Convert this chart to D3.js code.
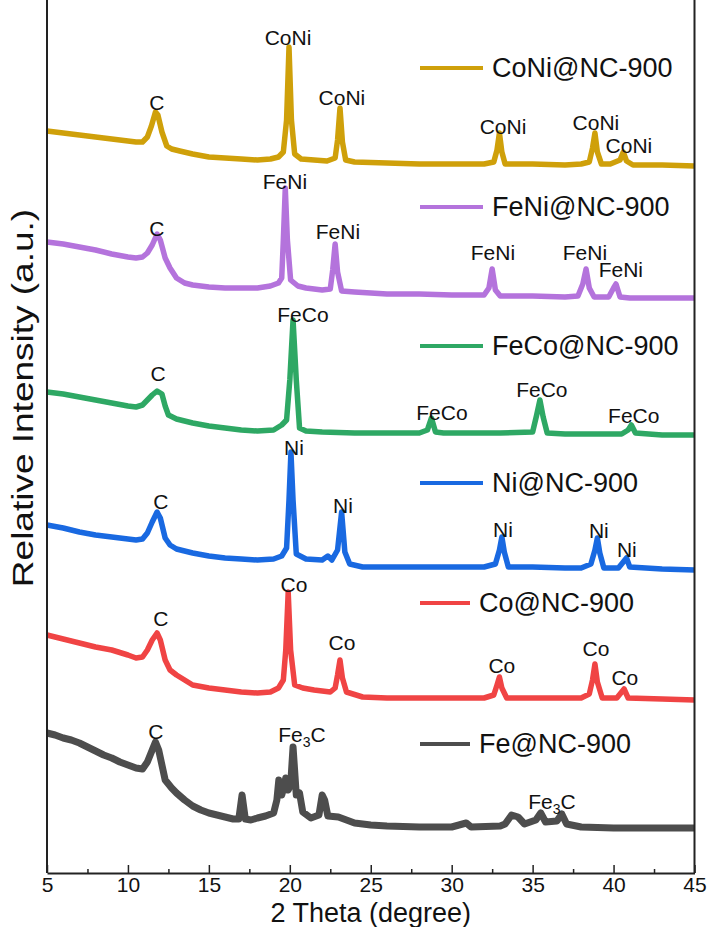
<!DOCTYPE html>
<html>
<head>
<meta charset="utf-8">
<script src="https://cdnjs.cloudflare.com/ajax/libs/d3/7.8.5/d3.min.js"></script>
<style>
  html, body { margin: 0; padding: 0; background: #fff; }
  svg { display: block; font-family: "Liberation Sans", Arial, sans-serif; }
</style>
</head>
<body>
<div id="main"></div>
<script>
// x ticks
var majorTicks = [5, 10, 15, 20, 25, 30, 35, 40, 45];
var minorTicks = [7.5, 12.5, 17.5, 22.5, 27.5, 32.5, 37.5, 42.5];

// series names (legend order, top to bottom)
var seriesNames = ["CoNi@NC-900", "FeNi@NC-900", "FeCo@NC-900", "Ni@NC-900", "Co@NC-900", "Fe@NC-900"];

// stacked patterns: [2theta, relative intensity (a.u., offset included)]
var coNi = [[5, 869], [6, 867], [7, 865], [8, 863], [9, 861], [10, 859], [10.5, 858], [10.9, 858], [11.2, 863], [11.45, 874], [11.7, 888], [11.85, 885], [12.1, 868], [12.4, 854], [12.7, 851], [13.2, 849], [14, 846], [15, 843], [16, 842], [17, 841], [18, 840], [18.8, 841], [19.3, 843], [19.6, 848], [19.8, 880], [19.95, 953], [20.1, 880], [20.3, 846], [20.7, 841], [21.5, 840], [22.3, 839], [22.8, 842], [22.95, 860], [23.1, 892], [23.25, 858], [23.45, 840], [24, 838], [26, 837], [28, 836], [30, 836], [32, 836], [32.6, 838], [32.8, 850], [32.95, 867], [33.1, 848], [33.3, 836], [35, 836], [37, 835], [38, 836], [38.5, 838], [38.7, 852], [38.85, 867], [39.0, 848], [39.25, 836], [39.8, 836], [40.4, 840], [40.6, 848], [40.8, 839], [41.2, 835], [43, 835], [45, 834]];

var feNi = [[5, 758], [6, 756], [7, 753], [8, 750], [9, 746], [10, 743], [10.5, 742], [10.9, 743], [11.2, 747], [11.5, 755], [11.8, 766], [12.0, 760], [12.3, 742], [12.6, 732], [13, 722], [13.5, 717], [14, 715], [15, 713], [16, 712], [17, 712], [18, 712], [18.8, 714], [19.3, 717], [19.5, 722], [19.6, 760], [19.72, 812], [19.85, 760], [20.05, 720], [20.5, 714], [21, 712], [22, 710], [22.5, 711], [22.65, 730], [22.8, 756], [22.95, 728], [23.2, 709], [24, 708], [26, 706], [28, 706], [30, 705], [32, 705], [32.3, 712], [32.5, 731], [32.7, 710], [33, 704], [35, 704], [37, 703], [37.8, 704], [38.1, 716], [38.3, 731], [38.5, 712], [38.8, 703], [39.7, 703], [40.0, 712], [40.15, 716], [40.4, 703], [41, 702], [43, 702], [45, 702]];

var feCo = [[5, 608], [6, 606], [7, 603], [8, 600], [9, 597], [10, 594], [10.5, 593], [10.9, 595], [11.2, 600], [11.5, 605], [11.8, 609], [12.1, 606], [12.3, 594], [12.5, 585], [13, 581], [14, 577], [15, 574], [16, 572], [17, 570], [18, 569], [19, 570], [19.5, 575], [19.8, 580], [20.0, 620], [20.2, 680], [20.4, 620], [20.6, 572], [21, 569], [22, 568], [24, 567], [26, 567], [28, 567], [28.5, 570], [28.75, 582], [29, 568], [29.5, 567], [31, 567], [33, 567], [35, 568], [35.25, 585], [35.45, 600], [35.65, 583], [35.9, 567], [37, 566], [39, 566], [40.5, 566], [40.9, 570], [41.1, 575], [41.35, 567], [43, 565], [45, 565]];

var ni = [[5, 475], [6, 472], [7, 468], [8, 465], [9, 463], [10, 461], [10.5, 460], [10.9, 461], [11.2, 467], [11.5, 478], [11.8, 488], [12.0, 482], [12.3, 462], [12.6, 455], [13, 451], [14, 447], [15, 444], [16, 442], [17, 441], [18, 440], [19, 441], [19.5, 444], [19.8, 452], [19.95, 500], [20.07, 548], [20.2, 500], [20.4, 446], [21, 441], [22, 440], [22.35, 444], [22.6, 440], [22.95, 450], [23.2, 488], [23.4, 448], [23.7, 436], [24.5, 433], [26, 433], [28, 433], [30, 433], [32, 433], [32.7, 436], [32.95, 450], [33.1, 463], [33.25, 448], [33.5, 433], [35, 433], [37, 432], [38, 432], [38.6, 436], [38.85, 450], [39.0, 462], [39.15, 447], [39.4, 432], [40.3, 432], [40.6, 438], [40.8, 442], [41.0, 433], [43, 431], [45, 430]];

var co = [[5, 365], [6, 361], [7, 357], [8, 353], [9, 350], [10, 345], [10.5, 342], [10.9, 343], [11.2, 350], [11.5, 360], [11.8, 367], [12.0, 360], [12.3, 340], [12.6, 330], [13, 325], [13.5, 320], [14, 315], [15, 312], [16, 310], [17, 308], [18, 307], [18.8, 308], [19.3, 312], [19.6, 320], [19.75, 350], [19.9, 408], [20.05, 350], [20.3, 315], [20.8, 312], [21.5, 310], [22.5, 308], [22.8, 312], [22.95, 325], [23.1, 340], [23.25, 322], [23.5, 308], [24.5, 303], [26, 302], [28, 302], [30, 302], [32, 302], [32.6, 305], [32.8, 315], [32.95, 323], [33.1, 312], [33.4, 302], [35, 302], [37, 302], [38, 302], [38.5, 306], [38.7, 320], [38.85, 336], [39.0, 318], [39.3, 302], [40.2, 302], [40.5, 308], [40.65, 311], [40.9, 302], [43, 301], [45, 300]];

var fe = [[5, 267], [5.5, 265], [6, 262], [6.5, 260], [7, 257], [7.5, 253], [8, 249], [8.5, 245], [9, 242], [9.5, 238], [10, 235], [10.5, 232], [10.9, 231], [11.2, 238], [11.5, 250], [11.7, 258], [11.9, 250], [12.3, 220], [12.7, 212], [13, 207], [13.5, 200], [14, 194], [14.5, 190], [15, 187], [15.5, 185], [16, 183], [16.5, 181], [16.85, 181], [17.05, 205], [17.25, 181], [17.6, 180], [18, 182], [18.5, 184], [19, 187], [19.2, 200], [19.32, 220], [19.5, 205], [19.62, 212], [19.75, 222], [19.9, 210], [20.05, 215], [20.2, 253], [20.4, 205], [20.6, 207], [20.8, 188], [21.3, 182], [21.8, 185], [22.0, 205], [22.15, 200], [22.35, 184], [23, 183], [23.5, 180], [24, 177], [25, 175], [26, 174], [28, 173], [30, 173], [30.9, 177], [31.2, 173], [33, 174], [33.3, 176], [33.7, 185], [34.1, 183], [34.5, 176], [35.2, 180], [35.5, 187], [35.8, 178], [36.5, 179], [36.8, 186], [37.1, 176], [38, 173], [40, 172], [42, 172], [45, 172]];

var seriesData = [coNi, feNi, feCo, ni, co, fe];

// peak assignments: [series index, label, 2theta, intensity]
var peakLabels = [
  [0, "C", 11.79, 897], [0, "CoNi", 19.89, 962], [0, "CoNi", 23.22, 902], [0, "CoNi", 33.17, 873], [0, "CoNi", 38.91, 877], [0, "CoNi", 40.95, 854],
  [1, "C", 11.79, 771], [1, "FeNi", 19.70, 818], [1, "FeNi", 22.97, 768], [1, "FeNi", 32.55, 747], [1, "FeNi", 38.23, 747], [1, "FeNi", 40.45, 730],
  [2, "C", 11.86, 626], [2, "FeCo", 20.81, 685], [2, "FeCo", 29.40, 587], [2, "FeCo", 35.57, 610], [2, "FeCo", 41.25, 584],
  [3, "C", 12.04, 498], [3, "Ni", 20.26, 552], [3, "Ni", 23.28, 494], [3, "Ni", 33.17, 470], [3, "Ni", 39.09, 469], [3, "Ni", 40.82, 450],
  [4, "C", 12.04, 381], [4, "Co", 20.26, 415], [4, "Co", 23.22, 357], [4, "Co", 33.10, 334], [4, "Co", 38.91, 351], [4, "Co", 40.70, 322],
  [5, "C", 11.73, 268], [5, "Fe3C", 20.75, 265], [5, "Fe3C", 36.19, 198]
];

var colors = ["#CFA00A", "#B473DC", "#2EA864", "#1969E1", "#F04444", "#4D4D4D"];

var W = 710, H = 927;
var left = 47, right = 694.5, bottom = 873;

var svg = d3.select("#main").append("svg")
    .attr("width", W)
    .attr("height", H);

var x = d3.scaleLinear().domain([5, 45]).range([left, right]);
var y = d3.scaleLinear().domain([127, 1000]).range([bottom, 0]);

var line = d3.line()
    .x(function(d) { return x(d[0]); })
    .y(function(d) { return y(d[1]); });

// traces
svg.selectAll(".trace")
    .data(seriesData)
    .enter()
    .append("path")
    .attr("class", "trace")
    .attr("d", line)
    .attr("fill", "none")
    .attr("stroke", function(d, i) { return colors[i]; })
    .attr("stroke-width", function(d, i) { return i == 5 ? 7 : 5.5; })
    .attr("stroke-linejoin", "round");

// peak labels
var lab = svg.selectAll(".peak")
    .data(peakLabels)
    .enter()
    .append("text")
    .attr("class", "peak")
    .attr("x", function(d) { return x(d[2]); })
    .attr("y", function(d) { return y(d[3]); })
    .attr("dy", "0.35em")
    .attr("text-anchor", "middle")
    .style("font-size", "21px")
    .attr("fill", "#111");
lab.each(function(d) {
    var t = d3.select(this);
    if (d[1] == "Fe3C") {
        t.append("tspan").text("Fe");
        t.append("tspan").text("3").attr("dy", "0.3em").style("font-size", "14px");
        t.append("tspan").text("C").attr("dy", "-0.21em");
    } else {
        t.text(d[1]);
    }
});

// legend (one entry per trace, placed beside it)
var legendY = [68, 207, 346, 483, 603, 744];
var legendLen = [63, 63, 63, 63, 50, 50];
var leg = svg.selectAll(".legend")
    .data(seriesNames)
    .enter()
    .append("g")
    .attr("class", "legend")
    .attr("transform", function(d, i) { return "translate(420," + legendY[i] + ")"; });
leg.append("line")
    .attr("x1", 0)
    .attr("x2", function(d, i) { return legendLen[i]; })
    .attr("stroke", function(d, i) { return colors[i]; })
    .attr("stroke-width", 4);
leg.append("text")
    .attr("x", function(d, i) { return legendLen[i] + 9; })
    .attr("dy", "0.35em")
    .style("font-size", "27px")
    .attr("fill", "#111")
    .text(function(d) { return d; });

// axes
var xAxis = svg.append("g")
    .attr("transform", "translate(0," + bottom + ")")
    .call(d3.axisBottom(x).tickValues(majorTicks).tickSizeInner(-8).tickSizeOuter(0).tickPadding(4));
xAxis.selectAll("text").style("font-size", "21px").attr("fill", "#111");
xAxis.select(".domain").attr("stroke", "#222").attr("stroke-width", 2);
xAxis.selectAll(".tick line").attr("stroke", "#222").attr("stroke-width", 1.5);

var xMinor = svg.append("g")
    .attr("transform", "translate(0," + bottom + ")")
    .call(d3.axisBottom(x).tickValues(minorTicks).tickSizeInner(-4).tickSizeOuter(0).tickFormat(""));
xMinor.select(".domain").remove();
xMinor.selectAll(".tick line").attr("stroke", "#222").attr("stroke-width", 1.5);

svg.append("line")
    .attr("x1", left).attr("x2", left)
    .attr("y1", 0).attr("y2", bottom)
    .attr("stroke", "#222").attr("stroke-width", 2);
svg.append("line")
    .attr("x1", right).attr("x2", right)
    .attr("y1", 0).attr("y2", bottom)
    .attr("stroke", "#222").attr("stroke-width", 2);

svg.append("text")
    .attr("x", (left + right) / 2)
    .attr("y", 922)
    .attr("text-anchor", "middle")
    .style("font-size", "27px")
    .attr("fill", "#111")
    .text("2 Theta (degree)");

svg.append("text")
    .attr("transform", "translate(33,398) rotate(-90) scale(1,0.78)")
    .attr("text-anchor", "middle")
    .style("font-size", "37px")
    .attr("fill", "#111")
    .text("Relative Intensity (a.u.)");
</script>
</body>
</html>
